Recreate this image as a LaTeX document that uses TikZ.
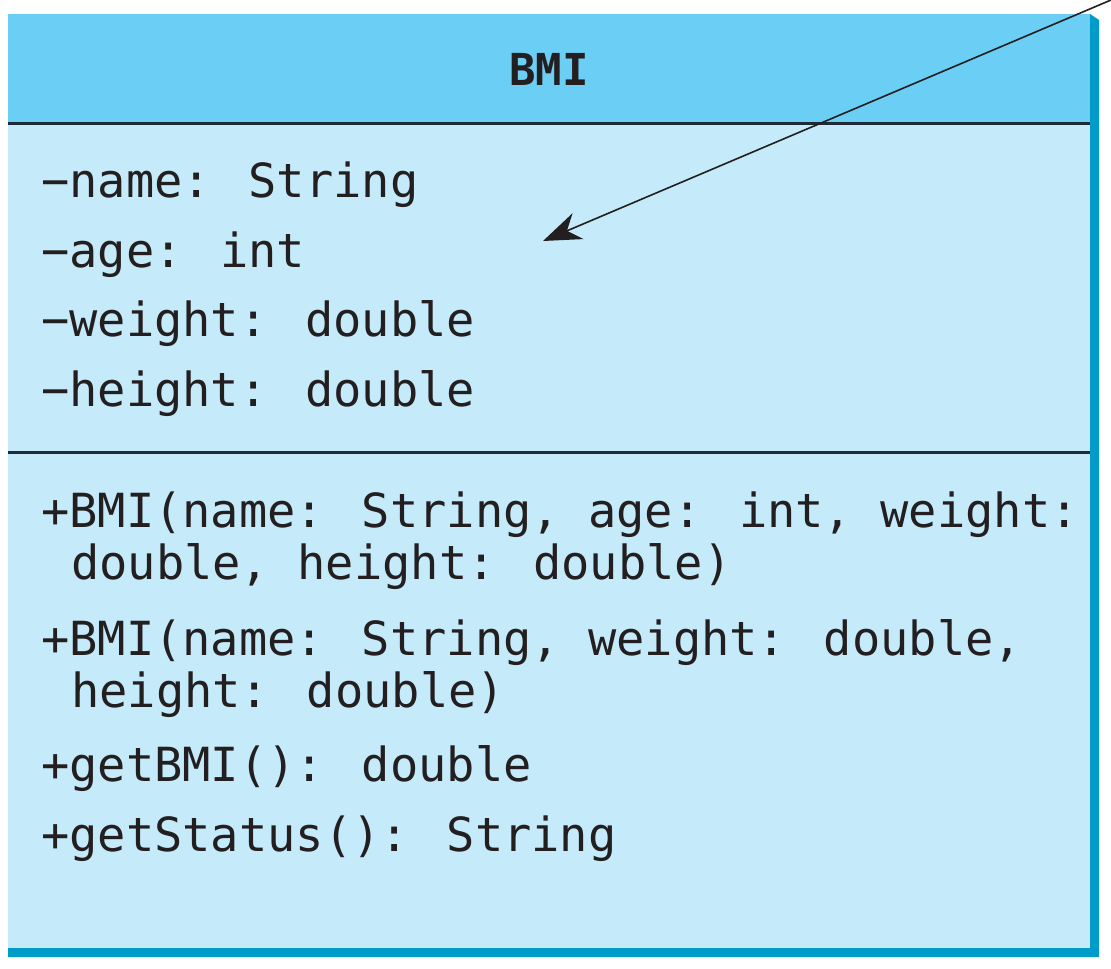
\documentclass[tikz,border=0pt]{standalone}
\usepackage{fontspec}
\newfontfamily\umlfont{DejaVu Sans Mono}
\usetikzlibrary{arrows.meta}
\definecolor{headblue}{HTML}{6BCEF5}
\definecolor{bodyblue}{HTML}{C5EAF9}
\definecolor{shadowblue}{HTML}{009BC9}
\definecolor{rulecol}{HTML}{1E2A36}
\definecolor{textcol}{HTML}{231F20}
\begin{document}
\begin{tikzpicture}[x=1pt,y=-1pt,
  txt/.style={anchor=base west, inner sep=0pt, text=textcol,
    font=\umlfont\fontsize{47}{56}\selectfont},
  title/.style={anchor=base, inner sep=0pt, text=textcol,
    font=\umlfont\bfseries\fontsize{44}{52}\selectfont},
  sep/.style={draw=rulecol, line width=3pt},
  pointer/.style={draw=textcol, line width=1.6pt,
    -{Stealth[length=38pt,width=28pt,inset=12pt]}}]
\useasboundingbox (0,0) rectangle (1111,969);
% shadow
\fill[shadowblue] (1090,14) -- (1099,20) -- (1099,957) -- (8,957) -- (8,948) -- (1090,948) -- cycle;
% box
\fill[headblue] (8,14) rectangle (1090,123);
\fill[bodyblue] (8,123) rectangle (1090,948);
\draw[sep] (8,123) -- (1090,123);
\draw[sep] (8,452) -- (1090,452);
% title
\node[title] (t) at (549,85) {BMI};
% attributes
\node[txt] (a1) at (41,197) {−name: String};
\node[txt] (a2) at (41,267) {−age: int};
\node[txt] (a3) at (41,336) {−weight: double};
\node[txt] (a4) at (41,406) {−height: double};
% methods
\node[txt] (m1) at (41,527) {+BMI(name: String, age: int, weight:};
\node[txt] (m1b) at (71,579) {double, height: double)};
\node[txt] (m2) at (41,655) {+BMI(name: String, weight: double,};
\node[txt] (m2b) at (71,707) {height: double)};
\node[txt] (m3) at (41,781) {+getBMI(): double};
\node[txt] (m4) at (41,851) {+getStatus(): String};
% pointer
\coordinate (from) at (1111,0);
\coordinate (to) at (543,241);
\draw[pointer] (from) -- (to);
\end{tikzpicture}
\end{document}
